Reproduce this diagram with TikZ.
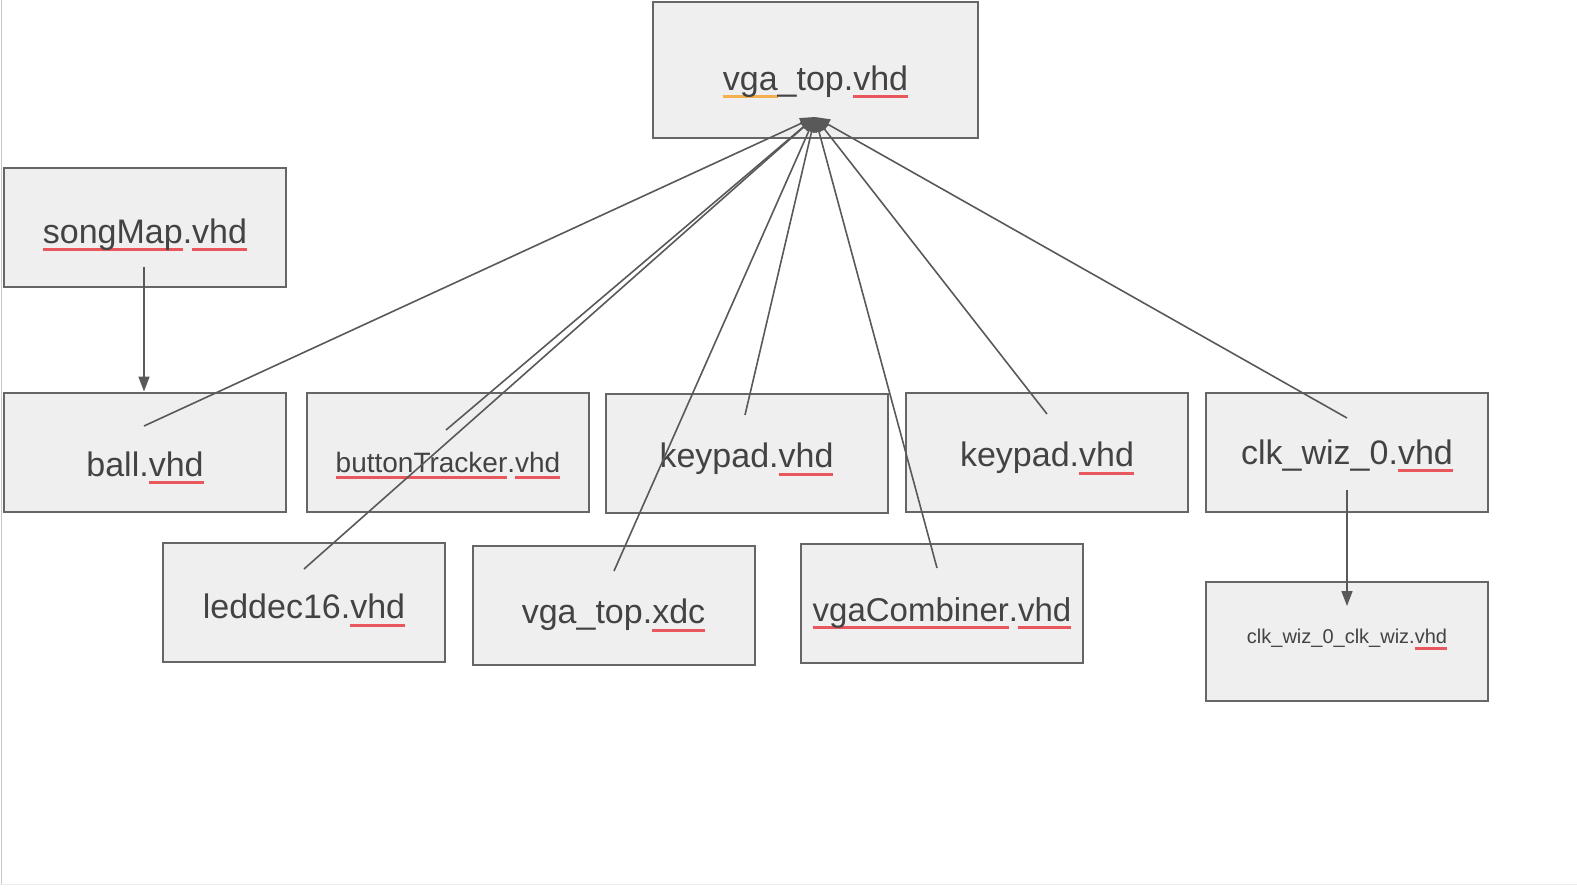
\documentclass[tikz,border=0pt]{standalone}
\usepackage{fontspec}
\setmainfont{Liberation Sans}
\usetikzlibrary{arrows.meta}

\definecolor{boxfill}{HTML}{EFEFEF}
\definecolor{boxline}{HTML}{666666}
\definecolor{wire}{HTML}{595959}
\definecolor{txt}{HTML}{434343}
\definecolor{ulred}{HTML}{E8575C}
\definecolor{ulorange}{HTML}{F4B04F}
% spell-check underline under a word
\newcommand{\spellul}[2][ulred]{\setbox0\hbox{#2}\rlap{\color{#1}\rule[\dimexpr-0.16em-3pt\relax]{\wd0}{3pt}}\box0}

\tikzset{
  file/.style={draw=boxline, line width=2pt, fill=boxfill, minimum width=282pt,
    minimum height=119pt, inner sep=0pt, text=txt, font=\fontsize{34}{40}\selectfont},
  drop/.style={text height=#1, text depth=0pt},
  link/.style={draw=wire, line width=1.6pt, -{Triangle[length=15pt,width=11pt]}},
}

\begin{document}
\begin{tikzpicture}[x=1pt, y=-1pt]
  \useasboundingbox (0,0) rectangle (1577,891);
  \draw[black!22, line width=1.5pt] (1.5,0) -- (1.5,884);
  \draw[black!8, line width=1pt] (0,884) -- (1577,884);

  \node[file, minimum width=325pt, minimum height=136pt, drop=40pt] (top) at (815.5,70) {\spellul[ulorange]{vga}\_top.\spellul{vhd}};
  \node[file, drop=32pt] (song) at (145,227) {\spellul{songMap}.\spellul{vhd}};
  \node[file, drop=48pt] (ball) at (145,452) {ball.\spellul{vhd}};
  \node[file, drop=40pt, font=\fontsize{28}{34}\selectfont] (button) at (448,452) {\spellul{buttonTracker}.\spellul{vhd}};
  \node[file, drop=28pt] (keypadA) at (746.5,453.5) {keypad.\spellul{vhd}};
  \node[file, drop=28pt] (keypadB) at (1047,452.5) {keypad.\spellul{vhd}};
  \node[file, drop=24pt] (clk) at (1347,452) {clk\_wiz\_0.\spellul{vhd}};
  \node[file, drop=32pt] (leddec) at (304,602.5) {leddec16.\spellul{vhd}};
  \node[file, drop=36pt] (xdc) at (613.5,605.5) {vga\_top.\spellul{xdc}};
  \node[file, drop=36pt, font=\fontsize{33}{40}\selectfont] (combiner) at (942,603) {\spellul{vgaCombiner}.\spellul{vhd}};
  \node[file, drop=4pt, font=\fontsize{20}{24}\selectfont] (clkwiz) at (1347,641.5) {clk\_wiz\_0\_clk\_wiz.\spellul{vhd}};

  \coordinate (hub) at (815,117);
  \coordinate (in-ball) at (144,426);
  \coordinate (in-button) at (446,430);
  \coordinate (in-keypadA) at (745,415);
  \coordinate (in-keypadB) at (1047,414);
  \coordinate (in-clk) at (1347,418);
  \coordinate (in-leddec) at (304,569);
  \coordinate (in-xdc) at (614,571);
  \coordinate (in-combiner) at (937,568);
  \coordinate (out-song) at (144,267);
  \coordinate (out-clk) at (1347,490);
  \coordinate (in-clkwiz) at (1347,606);

  \draw[link] (in-ball) -- (hub);
  \draw[link] (in-button) -- (hub);
  \draw[link] (in-leddec) -- (hub);
  \draw[link] (in-xdc) -- (hub);
  \draw[link] (in-keypadA) -- (hub);
  \draw[link] (in-combiner) -- (hub);
  \draw[link] (in-keypadB) -- (hub);
  \draw[link] (in-clk) -- (hub);
  \draw[link] (out-song) -- (out-song |- ball.north);
  \draw[link] (out-clk) -- (in-clkwiz);
\end{tikzpicture}
\end{document}
